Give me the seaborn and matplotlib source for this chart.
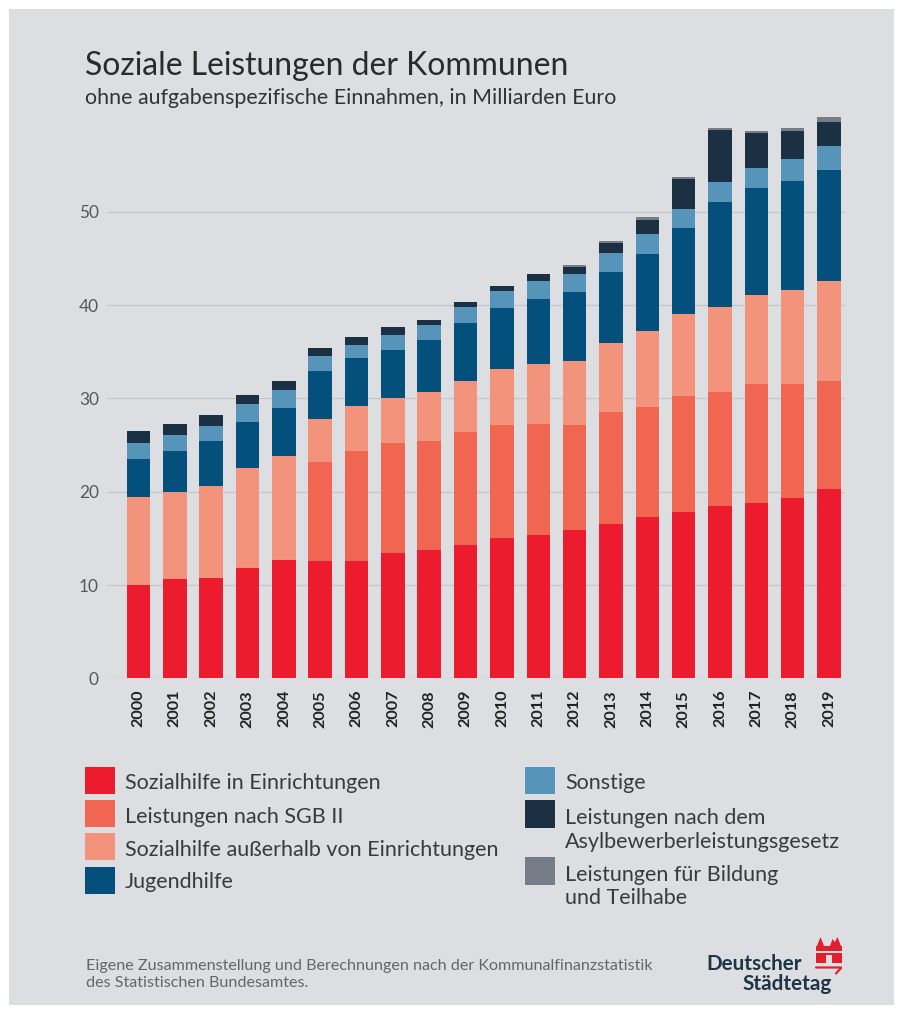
import matplotlib
matplotlib.use("Agg")
import matplotlib.pyplot as plt
import seaborn as sns
import numpy as np
import pandas as pd
from matplotlib.transforms import Affine2D
from matplotlib.patches import Rectangle, Polygon
from matplotlib.lines import Line2D

# ---------------- data (Milliarden Euro) ----------------
years = [str(y) for y in range(2000, 2020)]
sozialhilfe_in = [10.0, 10.6, 10.8, 11.8, 12.7, 12.6, 12.6, 13.4, 13.8, 14.3,
                  15.0, 15.35, 15.85, 16.5, 17.3, 17.85, 18.45, 18.75, 19.3, 20.3]
sgb2 = [0, 0, 0, 0, 0, 10.6, 11.8, 11.8, 11.6, 12.1,
        12.2, 11.95, 11.35, 12.0, 11.8, 12.45, 12.2, 12.8, 12.25, 11.6]
sozialhilfe_ausser = [9.45, 9.4, 9.8, 10.7, 11.15, 4.6, 4.75, 4.8, 5.25, 5.5,
                      5.95, 6.4, 6.85, 7.4, 8.1, 8.7, 9.15, 9.55, 10.05, 10.7]
jugendhilfe = [4.1, 4.4, 4.8, 5.0, 5.15, 5.1, 5.15, 5.2, 5.65, 6.15,
               6.5, 7.0, 7.4, 7.7, 8.3, 9.25, 11.2, 11.5, 11.7, 11.9]
sonstige = [1.65, 1.7, 1.6, 1.9, 1.9, 1.6, 1.4, 1.6, 1.6, 1.75,
            1.85, 1.9, 1.9, 2.0, 2.1, 2.05, 2.2, 2.1, 2.4, 2.6]
asyl = [1.3, 1.15, 1.2, 1.0, 1.0, 0.95, 0.9, 0.8, 0.5, 0.5,
        0.55, 0.7, 0.75, 1.1, 1.55, 3.2, 5.6, 3.75, 2.95, 2.5]
bildung = [0, 0, 0, 0, 0, 0, 0, 0, 0, 0,
           0, 0, 0.25, 0.2, 0.25, 0.25, 0.2, 0.25, 0.35, 0.6]

series_names = ["Sozialhilfe in Einrichtungen", "Leistungen nach SGB II",
                "Sozialhilfe außerhalb von Einrichtungen", "Jugendhilfe",
                "Sonstige", "Leistungen nach dem\nAsylbewerberleistungsgesetz",
                "Leistungen für Bildung\nund Teilhabe"]
colors = ["#EC1B2E", "#F06651", "#F3937B", "#03507D", "#5794BA", "#1B3043", "#777D88"]
y_ticks = [0, 10, 20, 30, 40, 50]

df = pd.DataFrame({
    series_names[0]: sozialhilfe_in,
    series_names[1]: sgb2,
    series_names[2]: sozialhilfe_ausser,
    series_names[3]: jugendhilfe,
    series_names[4]: sonstige,
    series_names[5]: asyl,
    series_names[6]: bildung,
}, index=years)
cum = df.cumsum(axis=1)

# ---------------- figure ----------------
W, H = 903, 1014
BG = "#DDDEE1"
sns.set_theme(style="white")
plt.rcParams["font.family"] = ["Lato", "DejaVu Sans"]

fig = plt.figure(figsize=(W / 100, H / 100), dpi=100, facecolor="white")
PX = Affine2D().scale(1 / W, -1 / H).translate(0, 1) + fig.transFigure
fig.add_artist(Rectangle((9, 9), 885, 996, transform=PX, facecolor=BG,
                         edgecolor="none", zorder=-10))
renderer = fig.canvas.get_renderer()


def fit(t, target_w):
    w = t.get_window_extent(renderer).width
    t.set_fontsize(t.get_fontsize() * target_w / w)
    return t.get_fontsize()


def measure_size(s, target_w, **kw):
    t = fig.text(0, 0, s, fontsize=10, **kw)
    size = fit(t, target_w)
    t.remove()
    return size


# axes
top_px, bot_px, left_px, right_px = 110, 678.3, 107, 845
ax = fig.add_axes([left_px / W, 1 - bot_px / H, (right_px - left_px) / W, (bot_px - top_px) / H])
ax.set_facecolor("none")

for name, col in zip(reversed(series_names), reversed(colors)):
    sns.barplot(x=years, y=cum[name].values, color=col, saturation=1,
                width=0.647, errorbar=None, ax=ax, zorder=2, linewidth=0)

ax.set_ylim(0, (bot_px - top_px) / 9.33)
ax.set_xlim(-0.867, 19.44)
ax.set_yticks(y_ticks)
ax.set_axisbelow(True)
ax.yaxis.grid(True, color="#C7C8CC", linewidth=1.0)
ax.xaxis.grid(False)
for s in ax.spines.values():
    s.set_visible(False)
ax.set_xlabel("")
ax.set_ylabel("")

ysize = measure_size("50", 20, color="#555")
xsize = measure_size("2000", 38, fontweight="bold")
ax.tick_params(axis="y", length=0, pad=5.8, labelsize=ysize, labelcolor="#55585C")
ax.tick_params(axis="x", length=0, pad=8.4, labelsize=xsize, labelcolor="#222222")
for lab in ax.get_xticklabels():
    lab.set_rotation(90)
    lab.set_fontweight("bold")
    lab.set_va("top")
    lab.set_ha("center")

# ---------------- title ----------------
t = fig.text(85, 75, "Soziale Leistungen der Kommunen", transform=PX, fontsize=20,
             color="#2A2A2A", va="baseline", ha="left")
fit(t, 485)
t = fig.text(85, 103.5, "ohne aufgabenspezifische Einnahmen, in Milliarden Euro", transform=PX,
             fontsize=12, color="#333333", va="baseline", ha="left")
fit(t, 527)

# ---------------- legend ----------------
leg_size = measure_size(series_names[2], 372)
leg_color = "#3A3A3A"
left_rows = [(766.7, 789.3), (800.0, 822.7), (833.3, 855.5), (866.7, 888.0)]
for i in range(4):
    top, base = left_rows[i]
    fig.add_artist(Rectangle((85, top), 30, 27, transform=PX, facecolor=colors[i], edgecolor="none"))
    fig.text(125, base, series_names[i], transform=PX, fontsize=leg_size, color=leg_color,
             va="baseline", ha="left")

right_rows = [(766.7, [789.3]), (800.0, [824.0, 847.7]), (857.3, [881.0, 904.3])]
for j, (top, bases) in enumerate(right_rows):
    i = 4 + j
    fig.add_artist(Rectangle((525, top), 30, 27.5, transform=PX, facecolor=colors[i], edgecolor="none"))
    for line, b in zip(series_names[i].split("\n"), bases):
        fig.text(565, b, line, transform=PX, fontsize=leg_size, color=leg_color,
                 va="baseline", ha="left")

# ---------------- footer ----------------
t = fig.text(86, 970, "Eigene Zusammenstellung und Berechnungen nach der Kommunalfinanzstatistik",
             transform=PX, fontsize=10, color="#62666B", va="baseline", ha="left")
fs = fit(t, 567)
fig.text(86, 986.7, "des Statistischen Bundesamtes.", transform=PX, fontsize=fs,
         color="#62666B", va="baseline", ha="left")

# ---------------- logo ----------------
logo_col = "#1E3448"
t = fig.text(706, 970, "Deutscher", transform=PX, fontsize=16, fontweight="bold",
             color=logo_col, va="baseline", ha="left")
lfs = fit(t, 96)
t = fig.text(832, 990, "Städtetag", transform=PX, fontsize=lfs, fontweight="bold",
             color=logo_col, va="baseline", ha="right")
red = "#E41F2D"
fig.add_artist(Polygon([(817, 946), (820.5, 937), (824, 946)], closed=True, transform=PX,
                       facecolor=red, edgecolor="none"))
fig.add_artist(Polygon([(830, 946), (832.5, 939), (835, 942), (837.5, 937), (841, 946)], closed=True,
                       transform=PX, facecolor=red, edgecolor="none"))
fig.add_artist(Rectangle((816, 946), 25.7, 17.3, transform=PX, facecolor=red, edgecolor="none"))
fig.add_artist(Rectangle((816, 951), 25.7, 1.6, transform=PX, facecolor=BG, edgecolor="none"))
fig.add_artist(Rectangle((826, 955), 5.7, 8.5, transform=PX, facecolor=BG, edgecolor="none"))
fig.add_artist(Line2D([816, 841.5, 836], [967.5, 967.5, 973.5], transform=PX, color=red,
                      linewidth=1.6, solid_joinstyle="miter"))

fig.savefig("out.png", dpi=100, facecolor="white")
